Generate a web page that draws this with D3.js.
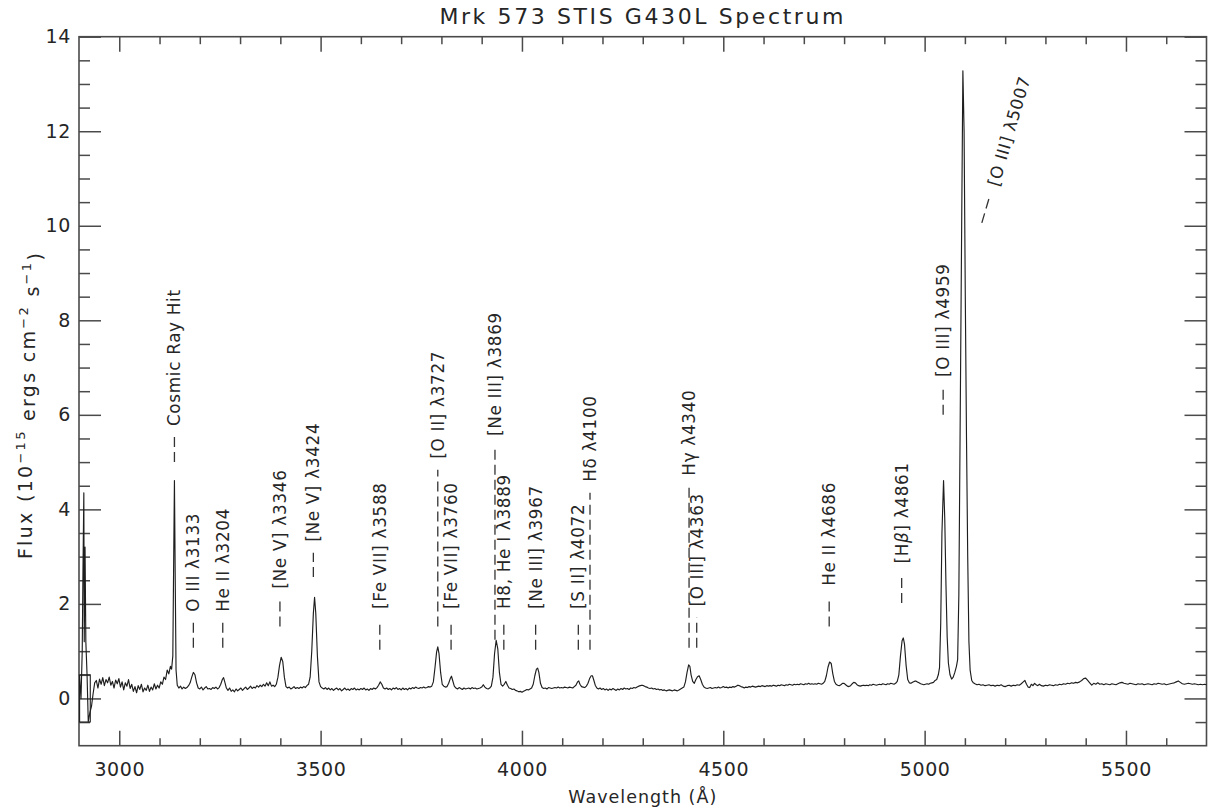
<!DOCTYPE html>
<html>
<head>
<meta charset="utf-8">
<script src="https://cdn.jsdelivr.net/npm/d3@7"></script>
<style>
  body { margin: 0; background: #fff; }
  svg { display: block; font-family: "DejaVu Sans", sans-serif; }
</style>
</head>
<body>
<svg id="chart" width="1209" height="811"></svg>
<script>
// wavelength (Angstrom), flux (1e-15 erg/cm2/s)
const spectrum = [
  [2901, 0.5], [2905, 0.0], [2908, 1.0], [2910, 2.8], [2912, 4.35], [2913, 1.2], [2915, 3.2], [2917, 1.2],
  [2920, 0.5], [2923, -0.49], [2927, -0.3], [2931, -0.17], [2935, 0.1], [2939, 0.33],
  [2943, 0.38], [2947, 0.22], [2951, 0.41], [2955, 0.30], [2959, 0.44], [2963, 0.27], [2967, 0.40], [2971, 0.33],
  [2975, 0.45], [2979, 0.28], [2983, 0.36], [2987, 0.22], [2991, 0.39], [2995, 0.31], [2999, 0.42], [3003, 0.24],
  [3007, 0.35], [3011, 0.18], [3015, 0.33], [3019, 0.26], [3023, 0.40], [3027, 0.21], [3031, 0.30], [3035, 0.15],
  [3039, 0.25], [3043, 0.12], [3047, 0.27], [3051, 0.19], [3055, 0.30], [3059, 0.14], [3063, 0.22], [3067, 0.17],
  [3071, 0.28], [3075, 0.15], [3079, 0.24], [3083, 0.18], [3087, 0.31], [3091, 0.20], [3095, 0.28], [3099, 0.22],
  [3103, 0.35], [3107, 0.30], [3111, 0.45], [3115, 0.40], [3119, 0.60], [3123, 0.52], [3127, 0.68], [3130, 0.62],
  [3133, 0.9], [3135, 2.8], [3137, 4.61], [3139, 2.5], [3141, 0.6], [3144, 0.28], [3148, 0.22], [3152, 0.26],
  [3156, 0.20], [3160, 0.24], [3164, 0.21], [3168, 0.23], [3172, 0.27], [3176, 0.33], [3180, 0.45], [3184, 0.55],
  [3188, 0.50], [3192, 0.33], [3196, 0.22], [3200, 0.20], [3204, 0.24], [3208, 0.18], [3212, 0.22], [3216, 0.25],
  [3220, 0.20], [3224, 0.21], [3228, 0.19], [3232, 0.23], [3236, 0.21], [3240, 0.24], [3244, 0.20], [3248, 0.23],
  [3252, 0.30], [3256, 0.40], [3259, 0.44], [3262, 0.35], [3266, 0.22], [3270, 0.17], [3274, 0.22], [3278, 0.15],
  [3282, 0.18], [3286, 0.14], [3290, 0.20], [3294, 0.16], [3298, 0.19], [3302, 0.22], [3306, 0.17], [3310, 0.21],
  [3314, 0.24], [3318, 0.19], [3322, 0.22], [3326, 0.26], [3330, 0.21], [3334, 0.24], [3338, 0.22], [3342, 0.27],
  [3346, 0.24], [3350, 0.28], [3354, 0.25], [3358, 0.30], [3362, 0.26], [3366, 0.33], [3370, 0.27], [3374, 0.35],
  [3378, 0.26], [3382, 0.28], [3386, 0.25], [3390, 0.30], [3394, 0.45], [3398, 0.70], [3402, 0.87], [3406, 0.78],
  [3410, 0.45], [3414, 0.25], [3418, 0.22], [3422, 0.24], [3426, 0.20], [3430, 0.22], [3434, 0.25], [3438, 0.21],
  [3442, 0.23], [3446, 0.21], [3450, 0.24], [3454, 0.22], [3458, 0.25], [3462, 0.23], [3466, 0.27], [3470, 0.30],
  [3474, 0.45], [3478, 1.0], [3482, 1.8], [3485, 2.14], [3488, 1.8], [3492, 0.9], [3496, 0.35], [3500, 0.25],
  [3504, 0.22], [3508, 0.20], [3512, 0.23], [3516, 0.19], [3520, 0.22], [3524, 0.18], [3528, 0.21], [3532, 0.17],
  [3536, 0.20], [3540, 0.22], [3544, 0.18], [3548, 0.21], [3552, 0.16], [3556, 0.19], [3560, 0.22], [3564, 0.18],
  [3568, 0.20], [3572, 0.17], [3576, 0.21], [3580, 0.19], [3584, 0.22], [3588, 0.18], [3592, 0.20], [3596, 0.18],
  [3600, 0.21], [3604, 0.19], [3608, 0.22], [3612, 0.18], [3616, 0.20], [3620, 0.17], [3624, 0.21], [3628, 0.19],
  [3632, 0.22], [3636, 0.20], [3640, 0.23], [3644, 0.28], [3648, 0.35], [3652, 0.30], [3656, 0.22], [3660, 0.20],
  [3664, 0.22], [3668, 0.19], [3672, 0.21], [3676, 0.18], [3680, 0.22], [3684, 0.20], [3688, 0.23], [3692, 0.19],
  [3696, 0.21], [3700, 0.18], [3704, 0.22], [3708, 0.19], [3712, 0.21], [3716, 0.18], [3720, 0.22], [3724, 0.20],
  [3728, 0.23], [3732, 0.21], [3736, 0.24], [3740, 0.22], [3744, 0.21], [3748, 0.23], [3752, 0.22], [3756, 0.24],
  [3760, 0.22], [3764, 0.23], [3768, 0.25], [3772, 0.24], [3776, 0.26], [3780, 0.35], [3784, 0.65], [3788, 0.98],
  [3791, 1.09], [3794, 0.95], [3798, 0.55], [3802, 0.30], [3806, 0.26], [3810, 0.24], [3814, 0.25], [3818, 0.32],
  [3822, 0.42], [3825, 0.47], [3828, 0.38], [3832, 0.26], [3836, 0.22], [3840, 0.20], [3844, 0.23], [3848, 0.21],
  [3852, 0.19], [3856, 0.22], [3860, 0.20], [3864, 0.21], [3868, 0.22], [3872, 0.20], [3876, 0.23], [3880, 0.21],
  [3884, 0.22], [3888, 0.20], [3892, 0.21], [3896, 0.22], [3900, 0.24], [3904, 0.29], [3908, 0.24], [3912, 0.21],
  [3916, 0.20], [3920, 0.22], [3924, 0.26], [3928, 0.45], [3932, 0.95], [3936, 1.23], [3940, 1.05], [3944, 0.55],
  [3948, 0.30], [3952, 0.26], [3956, 0.30], [3960, 0.36], [3964, 0.28], [3968, 0.22], [3972, 0.21], [3976, 0.19],
  [3980, 0.20], [3984, 0.17], [3988, 0.16], [3992, 0.14], [3996, 0.15], [4000, 0.13], [4004, 0.15], [4008, 0.17],
  [4012, 0.19], [4016, 0.18], [4020, 0.20], [4024, 0.22], [4028, 0.30], [4032, 0.48], [4036, 0.62], [4039, 0.64],
  [4042, 0.55], [4046, 0.32], [4050, 0.23], [4054, 0.21], [4058, 0.22], [4062, 0.20], [4066, 0.23], [4070, 0.22],
  [4074, 0.21], [4078, 0.22], [4082, 0.23], [4086, 0.22], [4090, 0.24], [4094, 0.22], [4098, 0.23], [4102, 0.22],
  [4106, 0.24], [4110, 0.23], [4114, 0.22], [4118, 0.24], [4122, 0.23], [4126, 0.22], [4130, 0.25], [4134, 0.28],
  [4138, 0.35], [4141, 0.37], [4144, 0.30], [4148, 0.25], [4152, 0.24], [4156, 0.23], [4160, 0.26], [4164, 0.32],
  [4168, 0.42], [4172, 0.48], [4175, 0.48], [4178, 0.40], [4182, 0.28], [4186, 0.22], [4190, 0.20], [4194, 0.22],
  [4198, 0.19], [4202, 0.21], [4206, 0.18], [4210, 0.20], [4214, 0.17], [4218, 0.20], [4222, 0.18], [4226, 0.21],
  [4230, 0.19], [4234, 0.17], [4238, 0.20], [4242, 0.18], [4246, 0.21], [4250, 0.19], [4254, 0.22], [4258, 0.20],
  [4262, 0.21], [4266, 0.19], [4270, 0.22], [4274, 0.21], [4278, 0.23], [4282, 0.22], [4286, 0.24], [4290, 0.26],
  [4294, 0.27], [4298, 0.28], [4302, 0.27], [4306, 0.25], [4310, 0.24], [4314, 0.22], [4318, 0.21], [4322, 0.22],
  [4326, 0.20], [4330, 0.21], [4334, 0.19], [4338, 0.20], [4342, 0.18], [4346, 0.19], [4350, 0.17], [4354, 0.18],
  [4358, 0.16], [4362, 0.17], [4366, 0.18], [4370, 0.17], [4374, 0.16], [4378, 0.18], [4382, 0.17], [4386, 0.16],
  [4390, 0.18], [4394, 0.20], [4398, 0.22], [4402, 0.24], [4406, 0.35], [4410, 0.55], [4414, 0.71], [4417, 0.68],
  [4420, 0.50], [4424, 0.36], [4428, 0.32], [4432, 0.40], [4436, 0.46], [4440, 0.48], [4444, 0.40], [4448, 0.30],
  [4452, 0.24], [4456, 0.22], [4460, 0.21], [4464, 0.22], [4468, 0.23], [4472, 0.21], [4476, 0.22], [4480, 0.23],
  [4484, 0.22], [4488, 0.24], [4492, 0.22], [4496, 0.23], [4500, 0.25], [4504, 0.23], [4508, 0.24], [4512, 0.22],
  [4516, 0.24], [4520, 0.23], [4524, 0.25], [4528, 0.24], [4532, 0.26], [4536, 0.28], [4540, 0.27], [4544, 0.25],
  [4548, 0.24], [4552, 0.22], [4556, 0.24], [4560, 0.23], [4564, 0.25], [4568, 0.24], [4572, 0.26], [4576, 0.25],
  [4580, 0.24], [4584, 0.25], [4588, 0.26], [4592, 0.25], [4596, 0.27], [4600, 0.26], [4604, 0.25], [4608, 0.27],
  [4612, 0.26], [4616, 0.27], [4620, 0.26], [4624, 0.28], [4628, 0.27], [4632, 0.26], [4636, 0.28], [4640, 0.27],
  [4644, 0.29], [4648, 0.28], [4652, 0.27], [4656, 0.29], [4660, 0.28], [4664, 0.30], [4668, 0.29], [4672, 0.28],
  [4676, 0.30], [4680, 0.29], [4684, 0.30], [4688, 0.29], [4692, 0.31], [4696, 0.30], [4700, 0.29], [4704, 0.31],
  [4708, 0.30], [4712, 0.32], [4716, 0.30], [4720, 0.31], [4724, 0.30], [4728, 0.31], [4732, 0.30], [4736, 0.32],
  [4740, 0.31], [4744, 0.30], [4748, 0.32], [4752, 0.36], [4756, 0.48], [4760, 0.66], [4764, 0.77], [4768, 0.74],
  [4772, 0.52], [4776, 0.36], [4780, 0.30], [4784, 0.28], [4788, 0.27], [4792, 0.29], [4796, 0.32], [4800, 0.32],
  [4804, 0.29], [4808, 0.26], [4812, 0.25], [4816, 0.27], [4820, 0.31], [4824, 0.34], [4828, 0.33], [4832, 0.29],
  [4836, 0.27], [4840, 0.26], [4844, 0.27], [4848, 0.28], [4852, 0.27], [4856, 0.28], [4860, 0.27], [4864, 0.29],
  [4868, 0.28], [4872, 0.30], [4876, 0.29], [4880, 0.28], [4884, 0.29], [4888, 0.30], [4892, 0.29], [4896, 0.31],
  [4900, 0.30], [4904, 0.29], [4908, 0.31], [4912, 0.30], [4916, 0.32], [4920, 0.31], [4924, 0.30], [4928, 0.32],
  [4932, 0.36], [4936, 0.50], [4940, 0.90], [4944, 1.22], [4947, 1.28], [4950, 1.15], [4954, 0.70], [4958, 0.40],
  [4962, 0.33], [4966, 0.32], [4970, 0.34], [4974, 0.36], [4978, 0.37], [4982, 0.35], [4986, 0.33], [4990, 0.31],
  [4994, 0.30], [4998, 0.29], [5002, 0.30], [5006, 0.31], [5010, 0.30], [5014, 0.32], [5018, 0.33], [5022, 0.34],
  [5026, 0.38], [5030, 0.40], [5034, 0.50], [5037, 0.65], [5040, 1.6], [5043, 3.5], [5047, 4.61], [5050, 3.8],
  [5053, 2.4], [5056, 1.3], [5059, 0.75], [5063, 0.50], [5067, 0.41], [5071, 0.45], [5075, 0.55], [5079, 0.68],
  [5082, 0.82], [5085, 2.2], [5088, 5.5], [5092, 10.0], [5095, 13.28], [5098, 12.0], [5101, 8.5], [5104, 5.5],
  [5107, 3.0], [5110, 1.2], [5113, 0.6], [5117, 0.38], [5121, 0.33], [5125, 0.31], [5130, 0.29], [5135, 0.30],
  [5140, 0.28], [5145, 0.29], [5150, 0.27], [5155, 0.28], [5160, 0.29], [5165, 0.27], [5170, 0.28], [5175, 0.26],
  [5180, 0.28], [5185, 0.27], [5190, 0.29], [5195, 0.26], [5200, 0.25], [5205, 0.27], [5210, 0.28], [5215, 0.26],
  [5220, 0.28], [5225, 0.27], [5230, 0.29], [5235, 0.28], [5240, 0.31], [5245, 0.35], [5249, 0.38], [5253, 0.30],
  [5257, 0.24], [5261, 0.23], [5265, 0.30], [5269, 0.27], [5273, 0.32], [5277, 0.29], [5281, 0.27], [5285, 0.30],
  [5290, 0.27], [5295, 0.26], [5300, 0.28], [5305, 0.27], [5310, 0.29], [5315, 0.28], [5320, 0.27], [5325, 0.29],
  [5330, 0.28], [5335, 0.30], [5340, 0.29], [5345, 0.31], [5350, 0.30], [5355, 0.32], [5360, 0.31], [5365, 0.33],
  [5370, 0.32], [5375, 0.34], [5380, 0.33], [5385, 0.35], [5390, 0.38], [5395, 0.42], [5400, 0.43], [5405, 0.38],
  [5410, 0.33], [5415, 0.28], [5420, 0.32], [5425, 0.30], [5430, 0.33], [5435, 0.30], [5440, 0.31], [5445, 0.29],
  [5450, 0.31], [5455, 0.30], [5460, 0.29], [5465, 0.31], [5470, 0.30], [5475, 0.29], [5480, 0.31], [5485, 0.33],
  [5490, 0.34], [5495, 0.32], [5500, 0.31], [5505, 0.30], [5510, 0.32], [5515, 0.31], [5520, 0.30], [5525, 0.29],
  [5530, 0.31], [5535, 0.30], [5540, 0.31], [5545, 0.29], [5550, 0.30], [5555, 0.31], [5560, 0.30], [5565, 0.29],
  [5570, 0.31], [5575, 0.30], [5580, 0.32], [5585, 0.31], [5590, 0.30], [5595, 0.31], [5600, 0.29], [5605, 0.30],
  [5610, 0.31], [5615, 0.32], [5620, 0.33], [5625, 0.35], [5630, 0.37], [5635, 0.34], [5640, 0.31], [5645, 0.30],
  [5650, 0.31], [5655, 0.32], [5660, 0.31], [5665, 0.30], [5670, 0.31], [5675, 0.30], [5680, 0.29], [5685, 0.30],
  [5690, 0.29], [5695, 0.30], [5700, 0.29]
];

// the square drawn at the blue edge of the data
const edgeBox = [[2901.5, 0.5], [2928, 0.5], [2928, -0.5], [2901.5, -0.5], [2901.5, 0.5]];

// line identifications: wave = column position, from/to = flux span of the dashes
const lineLabels = [
  { text: "Cosmic Ray Hit", wave: 3137, from: 5.00, to: 5.53, angle: 90 },
  { text: "O III λ3133", wave: 3184, from: 1.07, to: 1.60, angle: 90 },
  { text: "He II λ3204", wave: 3257, from: 1.07, to: 1.60, angle: 90 },
  { text: "[Ne V] λ3346", wave: 3399, from: 1.52, to: 2.09, angle: 90 },
  { text: "[Ne V] λ3424", wave: 3482, from: 2.57, to: 3.08, angle: 90 },
  { text: "[Fe VII] λ3588", wave: 3647, from: 1.03, to: 1.66, angle: 90 },
  { text: "[O II] λ3727", wave: 3791, from: 1.52, to: 4.84, angle: 90 },
  { text: "[Fe VII] λ3760", wave: 3824, from: 1.03, to: 1.66, angle: 90 },
  { text: "[Ne III] λ3869", wave: 3933, from: 1.24, to: 5.32, angle: 90 },
  { text: "H8, He I λ3889", wave: 3955, from: 1.03, to: 1.66, angle: 90 },
  { text: "[Ne III] λ3967", wave: 4034, from: 1.03, to: 1.66, angle: 90 },
  { text: "[S II] λ4072", wave: 4140, from: 1.03, to: 1.66, angle: 90 },
  { text: "Hδ λ4100", wave: 4169, from: 1.03, to: 4.35, angle: 90 },
  { text: "Hγ λ4340", wave: 4415, from: 1.07, to: 4.48, angle: 90 },
  { text: "[O III] λ4363", wave: 4434, from: 1.07, to: 1.71, angle: 90 },
  { text: "He II λ4686", wave: 4763, from: 1.52, to: 2.15, angle: 90 },
  { text: "[Hβ] λ4861", wave: 4943, from: 2.02, to: 2.62, angle: 90 },
  { text: "[O III] λ4959", wave: 5046, from: 6.00, to: 6.57, angle: 90 },
  { text: "[O III] λ5007", wave: 5142, from: 10.06, to: 10.63, angle: 73.6 }
];

const xMajorTicks = [3000, 3500, 4000, 4500, 5000, 5500];
const xMinorTicks = [3100, 3200, 3300, 3400, 3600, 3700, 3800, 3900, 4100, 4200, 4300, 4400,
                     4600, 4700, 4800, 4900, 5100, 5200, 5300, 5400, 5600];
const yMajorTicks = [0, 2, 4, 6, 8, 10, 12, 14];
const yMinorTicks = [-0.5, 0.5, 1, 1.5, 2.5, 3, 3.5, 4.5, 5, 5.5, 6.5, 7, 7.5, 8.5, 9, 9.5,
                     10.5, 11, 11.5, 12.5, 13, 13.5];

const chartTitle = "Mrk 573 STIS G430L Spectrum";
const xTitle = "Wavelength (Å)";

const svg = d3.select("#chart");
const plotLeft = 79, plotRight = 1206.5, plotTop = 36.7, plotBottom = 745.7;
const axisColor = "#4a4a4a";
const inkColor = "#262626";

const x = d3.scaleLinear().domain([2900, 5700]).range([plotLeft, plotRight]);
const y = d3.scaleLinear().domain([-1, 14]).range([plotBottom, plotTop]);

function drawAxis(axis, tx, ty) {
    const g = svg.append("g").attr("transform", `translate(${tx},${ty})`).call(axis);
    g.select(".domain").remove();
    g.selectAll(".tick line").attr("stroke", axisColor).attr("stroke-width", 1.5);
    g.selectAll(".tick text")
        .attr("fill", inkColor)
        .style("font-family", "DejaVu Sans")
        .style("font-size", "19px")
        .style("letter-spacing", "0.6px");
    return g;
}

// bottom & top
drawAxis(d3.axisBottom(x).tickValues(xMajorTicks).tickSizeInner(-15).tickSizeOuter(0)
    .tickPadding(17).tickFormat(d3.format("d")), 0, plotBottom);
drawAxis(d3.axisBottom(x).tickValues(xMinorTicks).tickSizeInner(-7.5).tickSizeOuter(0).tickFormat(""), 0, plotBottom);
drawAxis(d3.axisTop(x).tickValues(xMajorTicks).tickSizeInner(-15).tickSizeOuter(0).tickFormat(""), 0, plotTop);
drawAxis(d3.axisTop(x).tickValues(xMinorTicks).tickSizeInner(-7.5).tickSizeOuter(0).tickFormat(""), 0, plotTop);

// left & right
drawAxis(d3.axisLeft(y).tickValues(yMajorTicks).tickSizeInner(-22).tickSizeOuter(0)
    .tickPadding(8).tickFormat(d3.format("d")), plotLeft, 0);
drawAxis(d3.axisLeft(y).tickValues(yMinorTicks).tickSizeInner(-11).tickSizeOuter(0).tickFormat(""), plotLeft, 0);
drawAxis(d3.axisRight(y).tickValues(yMajorTicks).tickSizeInner(-22).tickSizeOuter(0).tickFormat(""), plotRight, 0);
drawAxis(d3.axisRight(y).tickValues(yMinorTicks).tickSizeInner(-11).tickSizeOuter(0).tickFormat(""), plotRight, 0);

// frame
svg.append("rect")
    .attr("x", plotLeft).attr("y", plotTop)
    .attr("width", plotRight - plotLeft).attr("height", plotBottom - plotTop)
    .attr("fill", "none").attr("stroke", axisColor).attr("stroke-width", 1.6);

// spectrum
const line = d3.line().x(d => x(d[0])).y(d => y(d[1]));

svg.append("path")
    .datum(edgeBox)
    .attr("d", line)
    .attr("fill", "none").attr("stroke", "#1e1e1e").attr("stroke-width", 1.1);

svg.append("path")
    .datum(spectrum)
    .attr("d", line)
    .attr("fill", "none")
    .attr("stroke", "#1e1e1e")
    .attr("stroke-width", 1.15)
    .attr("stroke-linejoin", "round");

// line identifications
const labelLayer = svg.append("g");
lineLabels.forEach(d => {
    const x0 = x(d.wave);
    const y0 = y(d.from);
    const len = (y(d.from) - y(d.to)) / Math.sin(d.angle * Math.PI / 180);
    const g = labelLayer.append("g")
        .attr("transform", `translate(${x0},${y0}) rotate(${-d.angle})`);
    g.append("line")
        .attr("x1", 0).attr("y1", 0).attr("x2", len).attr("y2", 0)
        .attr("stroke", "#333").attr("stroke-width", 1.3)
        .attr("stroke-dasharray", "10,5");
    const t = g.append("text")
        .attr("x", len + 11)
        .attr("dy", "0.36em")
        .attr("fill", inkColor)
        .style("font-size", "16.8px")
        .style("letter-spacing", "0.7px");
    d.text.split(/(β)/).filter(s => s.length).forEach(part => {
        t.append("tspan").text(part).style("font-style", part === "β" ? "italic" : null);
    });
});

// titles
svg.append("text")
    .attr("x", (plotLeft + plotRight) / 2).attr("y", 24)
    .attr("text-anchor", "middle")
    .attr("fill", inkColor)
    .style("font-size", "22px")
    .style("letter-spacing", "2.6px")
    .text(chartTitle);

svg.append("text")
    .attr("x", (plotLeft + plotRight) / 2).attr("y", 803)
    .attr("text-anchor", "middle")
    .attr("fill", inkColor)
    .style("font-size", "17.5px")
    .style("letter-spacing", "1px")
    .text(xTitle);

const yTitle = svg.append("text")
    .attr("transform", "translate(32,405) rotate(-90)")
    .attr("text-anchor", "middle")
    .attr("fill", inkColor)
    .style("font-size", "19px")
    .style("letter-spacing", "2.3px");
yTitle.append("tspan").text("Flux (10");
yTitle.append("tspan").attr("dy", "-0.55em").style("font-size", "13px").text("−15");
yTitle.append("tspan").attr("dy", "0.55em").text(" ergs cm");
yTitle.append("tspan").attr("dy", "-0.55em").style("font-size", "13px").text("−2");
yTitle.append("tspan").attr("dy", "0.55em").text(" s");
yTitle.append("tspan").attr("dy", "-0.55em").style("font-size", "13px").text("−1");
yTitle.append("tspan").attr("dy", "0.55em").text(")");
</script>
</body>
</html>
